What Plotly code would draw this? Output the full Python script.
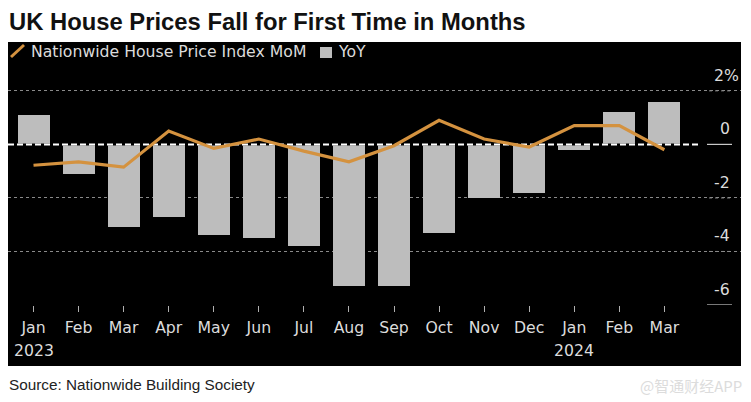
import plotly.graph_objects as go

W, H = 751, 402
months = ["Jan", "Feb", "Mar", "Apr", "May", "Jun", "Jul", "Aug", "Sep", "Oct", "Nov", "Dec",
          "Jan", "Feb", "Mar"]
x_pos = list(range(15))
year_pos = [0, 12]
year_labels = ["2023", "2024"]
yoy = [1.1, -1.1, -3.1, -2.7, -3.4, -3.5, -3.8, -5.3, -5.3, -3.3, -2.0, -1.8, -0.2, 1.2, 1.6]
mom = [-0.78, -0.65, -0.85, 0.5, -0.15, 0.2, -0.25, -0.65, -0.05, 0.9, 0.2, -0.1, 0.7, 0.7, -0.2]
y_ticks = [2, 0, -2, -4, -6]
y_labels = ["2%", "0", "-2", "-4", "-6"]
grid_ticks = [2, -2, -4]
solid_ticks = [0, -6]

ORANGE = "#d4923f"
BAR = "#bdbdbd"
TXT = "#dcdcdc"
AXF = "DejaVu Sans"

def px(v): return v / W
def py(v): return 1 - v / H

fig = go.Figure()
fig.add_bar(x=x_pos, y=yoy, width=0.71, marker=dict(color=BAR, line_width=0), name="YoY")
fig.add_scatter(x=[-0.566, 14.75], y=[0, 0], mode="lines", line=dict(color="#000000", width=2), hoverinfo="skip")
fig.add_scatter(x=[-0.566, 14.75], y=[0, 0], mode="lines", line=dict(color="#ffffff", width=2, dash="6px,3px"), hoverinfo="skip")
fig.add_scatter(x=x_pos, y=mom, mode="lines", line=dict(color=ORANGE, width=3.2), name="Nationwide House Price Index MoM")

shapes = [
    dict(type="rect", xref="paper", yref="paper", x0=px(8), x1=px(741), y0=py(366), y1=py(42),
         fillcolor="#000000", line_width=0, layer="below"),
    # gap in the gridlines ahead of the value labels
    dict(type="rect", xref="paper", yref="paper", x0=px(700), x1=px(708), y0=py(60), y1=py(300),
         fillcolor="#000000", line_width=0, layer="below"),
    # legend glyphs
    dict(type="line", xref="paper", yref="paper", x0=px(11), x1=px(24), y0=py(57), y1=py(45),
         line=dict(color=ORANGE, width=3)),
    dict(type="rect", xref="paper", yref="paper", x0=px(320), x1=px(332), y0=py(58), y1=py(47),
         fillcolor=BAR, line_width=0),
]
for t in grid_ticks:
    shapes.append(dict(type="line", xref="paper", yref="y", x0=px(709), x1=px(732), y0=t, y1=t,
                       line=dict(color="#8a8a8a", width=1, dash="dot"), layer="below"))
for t in solid_ticks:
    shapes.append(dict(type="line", xref="paper", yref="y", x0=px(707), x1=px(732), y0=t, y1=t,
                       line=dict(color="#c8c8c8", width=1.2)))

annotations = [
    dict(text="<b>UK House Prices Fall for First Time in Months</b>", xref="paper", yref="paper",
         x=px(7), y=py(21), xanchor="left", yanchor="middle", showarrow=False,
         font=dict(family="Liberation Sans", size=23.8, color="#111111")),
    dict(text="Nationwide House Price Index MoM", xref="paper", yref="paper", x=px(29), y=py(52),
         xanchor="left", yanchor="middle", showarrow=False, font=dict(family=AXF, size=15.7, color=TXT)),
    dict(text="YoY", xref="paper", yref="paper", x=px(336), y=py(52),
         xanchor="left", yanchor="middle", showarrow=False, font=dict(family=AXF, size=15.7, color=TXT)),
    dict(text="Source: Nationwide Building Society", xref="paper", yref="paper", x=px(7), y=py(384),
         xanchor="left", yanchor="middle", showarrow=False, font=dict(family="Liberation Sans", size=15.3, color="#222222")),
    dict(text="@智通财经APP", xref="paper", yref="paper", x=px(744), y=py(385),
         xanchor="right", yanchor="middle", showarrow=False, font=dict(family="Noto Sans CJK SC", size=15, color="#dcdcdc")),
]
for t, lab in zip(y_ticks, y_labels):
    annotations.append(dict(text=lab, xref="paper", yref="y", x=px(741 if lab.endswith("%") else 732), y=t,
                            xanchor="right", yanchor="bottom", yshift=4, showarrow=False,
                            font=dict(family=AXF, size=15.7, color=TXT)))
for xv, lab in zip(year_pos, year_labels):
    annotations.append(dict(text=lab, xref="x", yref="paper", x=xv, y=py(350),
                            xanchor="center", yanchor="middle", showarrow=False,
                            font=dict(family=AXF, size=15.7, color=TXT)))

fig.update_layout(
    width=W, height=H, autosize=False, margin=dict(l=0, r=0, t=0, b=0, pad=0),
    paper_bgcolor="#ffffff", plot_bgcolor="#000000", showlegend=False, bargap=0,
    shapes=shapes, annotations=annotations,
    xaxis=dict(domain=[px(8), px(741)], range=[-0.566, 15.7], tickmode="array", tickvals=x_pos, ticktext=months,
               ticks="outside", ticklen=6, tickwidth=1, tickcolor="#b0b0b0", showgrid=False, zeroline=False,
               showline=False, tickfont=dict(family=AXF, size=15.7, color=TXT), tickangle=0, automargin=False,
               ticklabelstandoff=2),
    yaxis=dict(domain=[py(305), py(42)], range=[-6, 3.825], tickmode="array", tickvals=grid_ticks,
               showticklabels=False, ticks="", showgrid=True, griddash="dot", gridcolor="#8a8a8a", gridwidth=1,
               zeroline=False, showline=False, automargin=False),
)
fig.write_html("out.html", post_script="document.body.style.margin='0';", config={"displayModeBar": False})
